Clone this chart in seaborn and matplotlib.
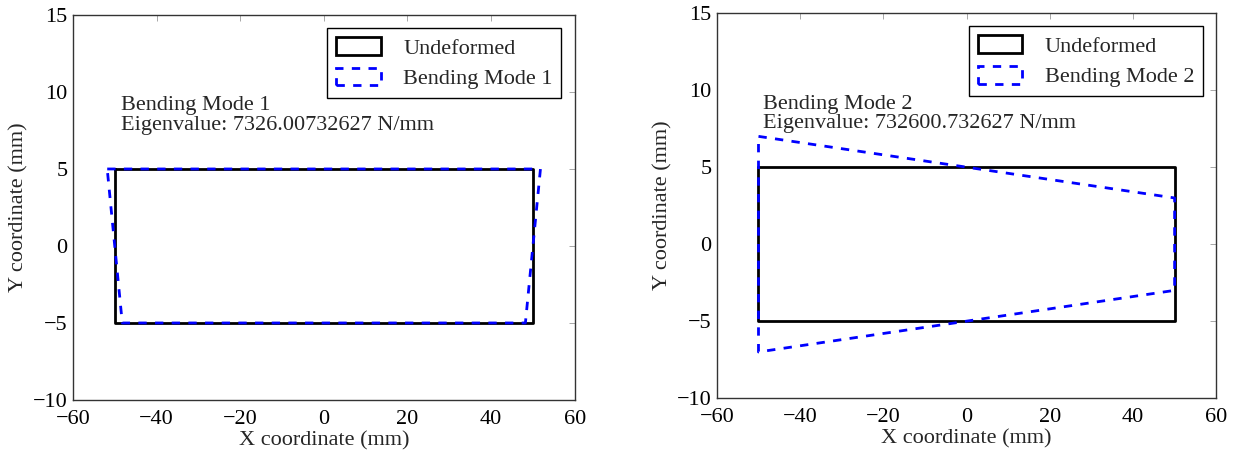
import matplotlib
matplotlib.use("Agg")
import matplotlib.pyplot as plt
import seaborn as sns
import pandas as pd
from matplotlib.patches import Patch

# ---- data ----
undeformed_x = [-50, 50, 50, -50, -50]
undeformed_y = [5, 5, -5, -5, 5]

mode1_x = [-51.8, 51.8, 48.2, -48.2, -51.8]
mode1_y = [5, 5, -5, -5, 5]

mode2_x = [-50, 50, 50, -50, -50]
mode2_y = [7, 3, -3, -7, 7]

mode_names = ["Bending Mode 1", "Bending Mode 2"]
eigenvalues = ["7326.00732627", "732600.732627"]
x_ticks = [-60, -40, -20, 0, 20, 40, 60]
y_ticks = [-10, -5, 0, 5, 10, 15]

sns.set_theme(style="white")
plt.rcParams["font.family"] = ["Liberation Serif", "DejaVu Serif"]
plt.rcParams["axes.unicode_minus"] = True

fig = plt.figure(figsize=(12.36, 4.54), dpi=100)
ax1 = fig.add_axes([0.059, 0.119, 0.406, 0.848])
ax2 = fig.add_axes([0.580, 0.123, 0.404, 0.848])

FS = 16
shapes = [(mode1_x, mode1_y), (mode2_x, mode2_y)]
text_pos = [(-48.5, 7.2), (-49.0, 7.2)]

for ax, (mx, my), name, ev, tp in zip([ax1, ax2], shapes, mode_names, eigenvalues, text_pos):
    df_u = pd.DataFrame({"x": undeformed_x, "y": undeformed_y})
    df_m = pd.DataFrame({"x": mx, "y": my})
    sns.lineplot(data=df_u, x="x", y="y", sort=False, estimator=None, ax=ax,
                 color="black", linewidth=2.0)
    sns.lineplot(data=df_m, x="x", y="y", sort=False, estimator=None, ax=ax,
                 color="#0000ff", linewidth=2.0, linestyle=(0, (3, 3)))
    ax.set_xlim(-60, 60)
    ax.set_ylim(-10, 15)
    ax.set_xticks(x_ticks)
    ax.set_yticks(y_ticks)
    ax.tick_params(direction="in", top=True, right=True, length=4, width=0.6,
                   colors="#999999", labelcolor="black", labelsize=FS)
    ax.tick_params(axis="x", pad=7)
    ax.tick_params(axis="y", pad=4)
    for s in ax.spines.values():
        s.set_color("#333333")
        s.set_linewidth(1.0)
    ax.set_xlabel("X coordinate (mm)", fontsize=FS, labelpad=2)
    ax.set_ylabel("Y coordinate (mm)", fontsize=FS, labelpad=3)
    ax.text(tp[0], tp[1], f"{name}\nEigenvalue: {ev} N/mm", fontsize=FS,
            ha="left", va="bottom", linespacing=1.05)
    handles = [Patch(facecolor="none", edgecolor="black", linewidth=2.0, label="Undeformed"),
               Patch(facecolor="none", edgecolor="#0000ff", linewidth=2.0,
                     linestyle=(0, (3, 3)), label=name)]
    leg = ax.legend(handles=handles, loc="upper right", fontsize=FS, fancybox=False,
                    framealpha=1, edgecolor="black", borderaxespad=0.6,
                    handlelength=2.0, handleheight=0.85, handletextpad=1.0,
                    labelspacing=0.4, borderpad=0.4)
    leg.get_frame().set_linewidth(1.0)

fig.savefig("out.png", dpi=100)
